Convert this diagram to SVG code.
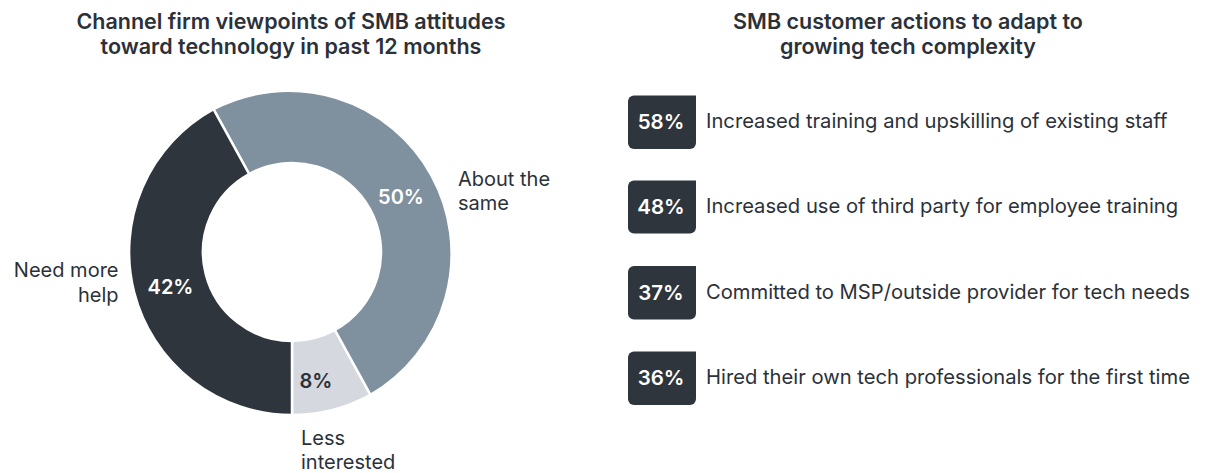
<svg xmlns="http://www.w3.org/2000/svg" width="1207" height="473" viewBox="0 0 1207 473">
<style>
text{font-family:Inter,"Liberation Sans",sans-serif;fill:#2b3139}
.title{font-size:21.5px;font-weight:600;text-anchor:middle}
.lbl{font-size:20px;font-weight:400}
.pct{font-size:20px;font-weight:600;text-anchor:middle}
.w{fill:#ffffff}
.item{font-size:20.2px;font-weight:400}
.badge{fill:#2e353d}
.bt{font-size:20.5px;font-weight:600;fill:#ffffff;text-anchor:middle}
</style>
<rect width="1207" height="473" fill="#ffffff"/>
<g id="left-title">
<text class="title" x="291" y="29">Channel firm viewpoints of SMB attitudes</text>
<text class="title" x="291" y="54">toward technology in past 12 months</text>
</g>
<g id="donut" stroke="#ffffff" stroke-width="2.5" stroke-linejoin="miter">
<path id="slice-less" fill="#d5d9df" d="M292,415 A163,163 0 0 0 370.5,394.8 L334.9,330 A89,89 0 0 1 292,341 Z"/>
<path id="slice-same" fill="#7f909f" d="M370.5,394.8 A163,163 0 0 0 213.5,109.2 L249.1,174 A89,89 0 0 1 334.9,330 Z"/>
<path id="slice-help" fill="#2e353d" d="M213.5,109.2 A163,163 0 0 0 292,415 L292,341 A89,89 0 0 1 249.1,174 Z"/>
</g>
<g id="donut-labels">
<text class="pct w" x="401" y="204">50%</text>
<text class="pct w" x="170.5" y="294">42%</text>
<text class="pct" x="316" y="388">8%</text>
<text class="lbl" x="458" y="186">About the</text>
<text class="lbl" x="458" y="210">same</text>
<text class="lbl" x="118.5" y="277" text-anchor="end">Need more</text>
<text class="lbl" x="118.5" y="301.5" text-anchor="end">help</text>
<text class="lbl" x="301" y="445">Less</text>
<text class="lbl" x="301" y="469">interested</text>
</g>
<g id="right-title">
<text class="title" x="908" y="29">SMB customer actions to adapt to</text>
<text class="title" x="908" y="54">growing tech complexity</text>
</g>
<g id="item1">
<path class="badge" d="M634,95.5 H696 V143 A6,6 0 0 1 690,149 H634 A6,6 0 0 1 628,143 V101.5 A6,6 0 0 1 634,95.5 Z"/>
<text class="bt" x="661" y="128.5">58%</text>
<text class="item" x="706" y="127.5">Increased training and upskilling of existing staff</text>
</g>
<g id="item2">
<path class="badge" d="M634,180.5 H696 V227.5 A6,6 0 0 1 690,233.5 H634 A6,6 0 0 1 628,227.5 V186.5 A6,6 0 0 1 634,180.5 Z"/>
<text class="bt" x="661" y="214">48%</text>
<text class="item" x="706" y="213">Increased use of third party for employee training</text>
</g>
<g id="item3">
<path class="badge" d="M634,266 H696 V313.5 A6,6 0 0 1 690,319.5 H634 A6,6 0 0 1 628,313.5 V272 A6,6 0 0 1 634,266 Z"/>
<text class="bt" x="661" y="299.5">37%</text>
<text class="item" x="706" y="298.5">Committed to MSP/outside provider for tech needs</text>
</g>
<g id="item4">
<path class="badge" d="M634,351.5 H696 V399 A6,6 0 0 1 690,405 H634 A6,6 0 0 1 628,399 V357.5 A6,6 0 0 1 634,351.5 Z"/>
<text class="bt" x="661" y="385">36%</text>
<text class="item" x="706" y="384">Hired their own tech professionals for the first time</text>
</g>
</svg>
